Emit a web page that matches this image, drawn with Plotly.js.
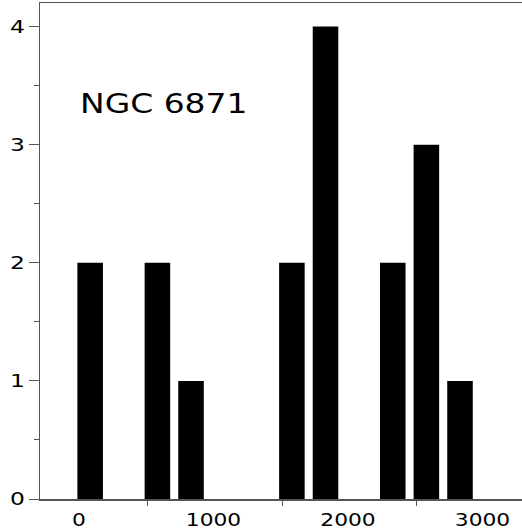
<!DOCTYPE html>
<html>
<head>
<meta charset="utf-8">
<script src="https://cdn.plot.ly/plotly-3.0.1.min.js"></script>
<style>
html, body { margin: 0; padding: 0; background: #fff; }
#chart { width: 522px; height: 529px; }
</style>
</head>
<body>
<div id="chart"></div>
<script>
// Histogram of NGC 6871 (bin centres and counts)
const binCenters = [83, 583, 833, 1583, 1833, 2333, 2583, 2833];
const counts = [2, 2, 1, 2, 4, 2, 3, 1];
const xTickVals = [0, 1000, 2000, 3000];
const xTickText = ['0', '1000', '2000', '3000'];
const xMinorTicks = [510, 1510, 2510];
const yTickVals = [0, 1, 2, 3, 4];
const yTickText = ['0', '1', '2', '3', '4'];
const label = 'NGC 6871';

const axisColor = '#555555';
const fontFam = '"DejaVu Sans", Arial, sans-serif';

const data = [{
  type: 'bar',
  x: binCenters,
  y: counts,
  width: 190,
  marker: { color: '#000000', line: { width: 0 } },
  hoverinfo: 'x+y'
}];

const layout = {
  width: 522,
  height: 529,
  margin: { l: 40, r: 0, t: 3, b: 30 },
  paper_bgcolor: '#ffffff',
  plot_bgcolor: '#ffffff',
  showlegend: false,
  font: { family: fontFam, color: '#000000' },
  xaxis: {
    range: [-290, 3294],
    tickmode: 'array',
    tickvals: xTickVals,
    ticktext: xTickText,
    ticks: '',
    showgrid: false,
    zeroline: false,
    showline: true,
    linecolor: axisColor,
    linewidth: 1.5,
    mirror: true,
    tickfont: { size: 17, family: fontFam, color: '#000' },
    ticklabelstandoff: 5,
    minor: {
      tickmode: 'array',
      tickvals: xMinorTicks,
      ticks: 'outside',
      ticklen: 5,
      tickwidth: 1,
      tickcolor: axisColor,
      showgrid: false
    }
  },
  yaxis: {
    range: [0, 4.2],
    tickmode: 'array',
    tickvals: yTickVals,
    ticktext: yTickText,
    ticks: 'outside',
    ticklen: 10,
    tickwidth: 1,
    tickcolor: axisColor,
    showgrid: false,
    zeroline: false,
    showline: true,
    linecolor: axisColor,
    linewidth: 1.5,
    tickfont: { size: 18, family: fontFam, color: '#000' },
    minor: {
      dtick: 0.5,
      tick0: 0,
      ticks: 'outside',
      ticklen: 5,
      tickwidth: 1,
      tickcolor: axisColor,
      showgrid: false
    }
  },
  annotations: [{
    text: label,
    x: -10,
    y: 3.35,
    xref: 'x',
    yref: 'y',
    xanchor: 'left',
    yanchor: 'middle',
    showarrow: false,
    font: { size: 27, family: fontFam, color: '#000' }
  }]
};

// widen glyphs horizontally, as in the reference
function stretch(sel, s, anchor) {
  document.querySelectorAll(sel).forEach(el => {
    const bb = el.getBBox();
    let cx = bb.x + bb.width / 2;
    if (anchor === 'left') cx = bb.x;
    if (anchor === 'right') cx = bb.x + bb.width;
    const prev = el.getAttribute('transform') || '';
    el.setAttribute('transform', prev + ' translate(' + cx + ',0) scale(' + s + ',1) translate(' + (-cx) + ',0)');
  });
}

Plotly.newPlot('chart', data, layout, { displayModeBar: false, staticPlot: true }).then(() => {
  stretch('#chart .xtick text', 1.28, 'middle');
  stretch('#chart .ytick text', 1.3, 'right');
  stretch('#chart .annotation-text', 1.22, 'left');
});
</script>
</body>
</html>
